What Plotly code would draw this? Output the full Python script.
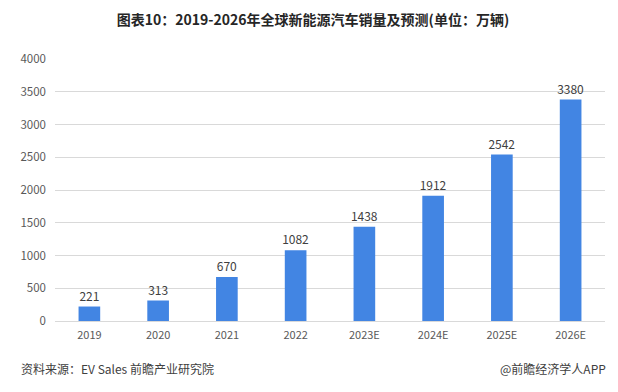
import plotly.graph_objects as go

categories = ["2019", "2020", "2021", "2022", "2023E", "2024E", "2025E", "2026E"]
sales = [221, 313, 670, 1082, 1438, 1912, 2542, 3380]
y_ticks = [0, 500, 1000, 1500, 2000, 2500, 3000, 3500, 4000]

title_text = "图表10：2019-2026年全球新能源汽车销量及预测(单位：万辆)"
source_text = "资料来源：EV Sales 前瞻产业研究院"
brand_text = "@前瞻经济学人APP"

FONT = "Noto Sans CJK SC"

# the page body has an 8px margin, so the figure is 8px smaller and all positions shift by 8
W, H = 610, 384
L, T, R, B = 37, 51, 13, 71
PW, PH = W - L - R, H - T - B

fig = go.Figure(
    go.Bar(
        x=categories,
        y=sales,
        marker=dict(color="#4285e3", line=dict(width=0)),
        width=0.315,
        text=[str(v) for v in sales],
        textposition="outside",
        constraintext="none",
        textfont=dict(size=12, color="#404040", family=FONT),
        cliponaxis=False,
    )
)

fig.update_layout(
    width=W,
    height=H,
    margin=dict(l=L, r=R, t=T, b=B),
    paper_bgcolor="white",
    plot_bgcolor="white",
    showlegend=False,
    font=dict(family=FONT, color="#595959"),
    title=dict(
        text="<b>" + title_text + "</b>",
        x=0.5,
        xanchor="center",
        y=1 - 12 / H,
        yanchor="middle",
        font=dict(size=14, color="#262626", family=FONT),
    ),
    xaxis=dict(
        type="category",
        showgrid=False,
        showline=False,
        ticks="",
        tickfont=dict(size=11, color="#595959"),
        ticklabelstandoff=6,
    ),
    yaxis=dict(
        range=[0, 4000],
        tickvals=y_ticks,
        showgrid=True,
        gridcolor="#d9d9d9",
        gridwidth=1,
        zeroline=True,
        zerolinecolor="#d9d9d9",
        zerolinewidth=1,
        showline=False,
        ticks="",
        tickfont=dict(size=11.5, color="#595959"),
        ticklabelstandoff=8,
    ),
    annotations=[
        dict(
            text=source_text,
            xref="paper", yref="paper",
            x=-L / PW, y=-(360 - (H - B)) / PH,
            xanchor="left", yanchor="middle",
            showarrow=False,
            font=dict(size=12, color="#404040", family=FONT),
        ),
        dict(
            text=brand_text,
            xref="paper", yref="paper",
            x=(600 - L) / PW, y=-(360 - (H - B)) / PH,
            xanchor="right", yanchor="middle",
            showarrow=False,
            font=dict(size=12, color="#404040", family=FONT),
        ),
    ],
)

fig.write_html("out.html")
